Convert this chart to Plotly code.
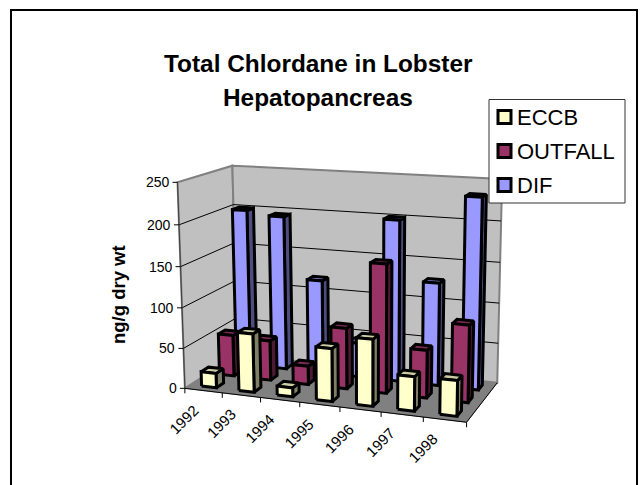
import numpy as np
import plotly.graph_objects as go

categories = ["1992", "1993", "1994", "1995", "1996", "1997", "1998"]
series_names = ["ECCB", "OUTFALL", "DIF"]
eccb = [18, 72, 11, 64, 80, 41, 42]
outfall = [52, 50, 23, 75, 157, 58, 93]
dif = [200, 195, 118, 43, 200, 127, 233]
value_ticks = [0, 50, 100, 150, 200, 250]

W, H = 642, 485
# Calibration of the oblique view: (category, series depth, value) -> pixel
world = np.array([[0,0,0],[7,0,0],[7,3,0],[0,0,250],[0,3,250],[7,3,250],[0,3,0]], float)
pix = np.array([[185,387],[467,423],[497,382],[177,183],[233,165],[502,179],[237,356]], float)
rows, rhs = [], []
for (X,Y,Z),(u,v) in zip(world,pix):
    rows.append([X,Y,Z,1,0,0,0,0,-u*X,-u*Y,-u*Z]); rhs.append(u)
    rows.append([0,0,0,0,X,Y,Z,1,-v*X,-v*Y,-v*Z]); rhs.append(v)
p = np.linalg.lstsq(np.array(rows),np.array(rhs),rcond=None)[0]
P = np.append(p,1).reshape(3,4)
def proj(X,Y,Z):
    r = P @ np.array([X,Y,Z,1.0])
    return r[0]/r[2], r[1]/r[2]

fig = go.Figure()
def poly(pts, fill=None, line="black", width=3, closed=True):
    q = [proj(*a) for a in pts]
    if closed: q = q+[q[0]]
    fig.add_trace(go.Scatter(x=[a[0] for a in q], y=[a[1] for a in q], mode="lines",
        fill="toself" if fill else None, fillcolor=fill,
        line=dict(color=line, width=width, simplify=False), hoverinfo="skip", showlegend=False))

# walls, floor
poly([(0,0,0),(0,3,0),(0,3,250),(0,0,250)], "#C0C0C0", "#808080", 2)
poly([(0,3,0),(7,3,0),(7,3,250),(0,3,250)], "#C0C0C0", "#808080", 2)
poly([(0,0,0),(7,0,0),(7,3,0),(0,3,0)], "#808080", "#808080", 1)
for v in value_ticks[1:-1]:
    poly([(0,0,v),(0,3,v),(7,3,v)], None, "black", 1, closed=False)
poly([(0,0,0),(0,0,250)], None, "#404040", 1, closed=False)
poly([(0,0,0),(7,0,0)], None, "black", 1, closed=False)
poly([(7,0,0),(7,3,0)], None, "black", 1, closed=False)
for v in value_ticks:
    a = proj(0,0,v)
    fig.add_trace(go.Scatter(x=[a[0]-5,a[0]],y=[a[1],a[1]],mode="lines",line=dict(color="black",width=1),hoverinfo="skip",showlegend=False))
    fig.add_annotation(x=a[0]-6,y=a[1],text=str(v),xanchor="right",yanchor="middle",showarrow=False,font=dict(family="Liberation Sans",size=14,color="black"))
for i in range(8):
    a = proj(i,0,0)
    fig.add_trace(go.Scatter(x=[a[0],a[0]],y=[a[1],a[1]+5],mode="lines",line=dict(color="black",width=1),hoverinfo="skip",showlegend=False))
for i,c in enumerate(categories):
    a = proj(i,0,0)
    fig.add_annotation(x=a[0]-1,y=a[1]+31,text=c,textangle=-45,xanchor="center",yanchor="middle",showarrow=False,font=dict(family="Liberation Sans",size=15,color="black"))

colors = {"ECCB":("#FFFFCC","#CCCCA3","#808066"),"OUTFALL":("#993366","#7A2952","#4D1A33"),"DIF":("#9999FF","#7A7ACC","#4D4D80")}
data = {"ECCB":eccb,"OUTFALL":outfall,"DIF":dif}
for s in [2,1,0]:
    name = series_names[s]
    fc,tc,sc = colors[name]
    for i,val in enumerate(data[name]):
        x0,x1,y0,y1 = i+.3,i+.7,s+.3,s+.7
        poly([(x1,y0,0),(x1,y1,0),(x1,y1,val),(x1,y0,val)], sc)
        poly([(x0,y0,val),(x1,y0,val),(x1,y1,val),(x0,y1,val)], tc)
        poly([(x0,y0,0),(x1,y0,0),(x1,y0,val),(x0,y0,val)], fc)

shapes = [
 dict(type="rect",x0=11,y0=10,x1=637,y1=500,line=dict(color="black",width=2),fillcolor="rgba(0,0,0,0)",layer="below"),
 dict(type="rect",x0=489,y0=99.5,x1=625,y1=203,line=dict(color="#333333",width=1),fillcolor="white",layer="above"),
]
for k,(name,yy) in enumerate(zip(series_names,[117,151,185])):
    shapes.append(dict(type="rect",x0=498,y0=yy-6.5,x1=511,y1=yy+6.5,line=dict(color="black",width=3),fillcolor=colors[name][0],layer="above"))
    fig.add_annotation(x=515,y=yy,text=name,xanchor="left",yanchor="middle",showarrow=False,font=dict(family="Liberation Sans",size=22,color="black"))

fig.add_annotation(x=318,y=63,text="<b>Total Chlordane in Lobster</b>",showarrow=False,font=dict(family="Liberation Sans",size=24.4,color="black"))
fig.add_annotation(x=318,y=97,text="<b>Hepatopancreas</b>",showarrow=False,font=dict(family="Liberation Sans",size=24.4,color="black"))
fig.add_annotation(x=118,y=295,text="<b>ng/g dry wt</b>",textangle=-90,showarrow=False,font=dict(family="Liberation Sans",size=18.5,color="black"))

fig.update_layout(width=W,height=H,autosize=False,margin=dict(l=0,r=0,t=0,b=0),paper_bgcolor="white",plot_bgcolor="white",showlegend=False,shapes=shapes,
    xaxis=dict(range=[0,W],visible=False,fixedrange=True),yaxis=dict(range=[H,0],visible=False,fixedrange=True))
fig.write_html("out.html",config=dict(displayModeBar=False),post_script="document.body.style.margin='0';document.body.style.overflow='hidden';")
